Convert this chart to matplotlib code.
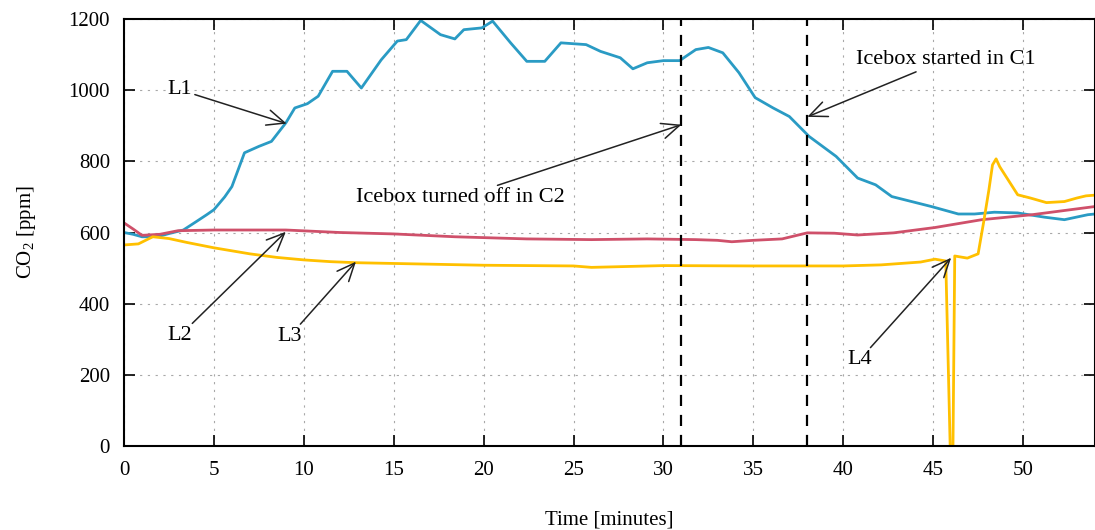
import matplotlib
matplotlib.use("Agg")
import matplotlib.pyplot as plt

plt.rcParams['font.family'] = ['Liberation Serif', 'DejaVu Serif']
plt.rcParams['mathtext.fontset'] = 'custom'
plt.rcParams['mathtext.rm'] = 'Liberation Serif'

# L1 (blue)
t1 = [0, 0.5, 1, 1.5, 2, 2.5, 3.3, 4, 4.6, 5, 5.6, 6, 6.7, 7.5, 8.2, 9,
      9.5, 10.2, 10.8, 11.6, 12.4, 13.2, 14.3, 15.2, 15.7, 16.5, 17.6,
      18.4, 18.9, 19.9, 20.5, 21.5, 22.4, 23.4, 24.3, 25.7, 26.5, 27.6,
      28.3, 29.1, 30, 30.9, 31.8, 32.5, 33.3, 34.2, 35.1, 36.1, 37, 38.1,
      39.6, 40.8, 41.8, 42.7, 43.8, 44.9, 46.4, 47.3, 48.4, 49.7, 51.2,
      52.3, 53.6, 54]
co2_l1 = [600, 595, 588, 588, 590, 597, 607, 630, 650, 664, 700, 729, 824,
          842, 856, 908, 950, 962, 983, 1053, 1053, 1006, 1085, 1138, 1142,
          1196, 1156, 1144, 1170, 1175, 1194, 1133, 1081, 1081, 1133, 1128,
          1109, 1091, 1060, 1077, 1083, 1083, 1114, 1120, 1105, 1049, 979,
          950, 926, 870, 814, 753, 734, 701, 687, 673, 652, 652, 657, 655,
          643, 636, 650, 652]

# L2 (red)
t2 = [0, 0.5, 1, 2, 3, 5, 9, 12, 15, 18.4, 22.4, 26, 29.1, 31.8, 33, 33.8,
      35, 36.6, 38, 39.5, 40.8, 42.8, 45.1, 47.7, 50.5, 54]
co2_l2 = [627, 610, 592, 595, 605, 607, 607, 600, 596, 588, 582, 580, 582,
          580, 578, 574, 578, 582, 599, 598, 593, 599, 614, 636, 650, 673]

# L3 (yellow)
t3 = [0, 0.8, 1.6, 2.5, 3.5, 5, 7, 8.5, 10, 11.5, 13, 16, 20, 25, 26, 30,
      35, 37.3, 40, 42.1, 44.3, 45.1, 45.7, 45.95, 46.0, 46.1, 46.2, 46.9,
      47.5, 47.8, 48.1, 48.3, 48.5, 48.7, 49.7, 50.4, 51.3, 52.3, 53, 53.5,
      54]
co2_l3 = [565, 568, 588, 583, 572, 557, 540, 530, 523, 518, 515, 512, 508,
          506, 502, 507, 506, 506, 506, 509, 517, 525, 520, -10, -10, -10,
          534, 528, 540, 627, 720, 790, 807, 785, 706, 697, 684, 687, 697,
          703, 705]

events = [31, 38]

fig = plt.figure(figsize=(10.95, 5.3), dpi=100)
ax = fig.add_axes([124 / 1095, 84 / 530, 971 / 1095, 427 / 530])

ax.plot(t1, co2_l1, color='#2a9bc4', lw=2)
ax.plot(t2, co2_l2, color='#cf506a', lw=2)
ax.plot(t3, co2_l3, color='#ffc000', lw=2)

for ev in events:
    ax.axvline(ev, color='black', lw=1.6, ls=(0, (5, 4)))

ax.set_xlim(0, 54)
ax.set_ylim(0, 1200)
ax.set_xticks(range(0, 55, 5))
ax.set_yticks(range(0, 1201, 200))
ax.grid(True, color='#a8a8a8', lw=0.8, ls=(0, (2, 5)))
ax.tick_params(direction='in', length=8, width=1.2, top=True, right=True,
               labelsize=15)
ax.tick_params(axis='x', pad=11)
ax.tick_params(axis='y', pad=10)
for sp in ax.spines.values():
    sp.set_linewidth(1.5)

ax.set_xlabel('Time [minutes]', fontsize=15, labelpad=22)
ax.set_ylabel('CO$_2$ [ppm]', fontsize=15, labelpad=22)

arrow = dict(arrowstyle='->,head_length=0.8,head_width=0.35', lw=1.1,
             color='#222222', shrinkA=0, shrinkB=0)
ax.annotate('L1', xy=(9.05, 906), xytext=(3.1, 1001), fontsize=16,
            ha='center', va='center', arrowprops=arrow)
ax.annotate('L2', xy=(9.0, 602), xytext=(3.1, 310), fontsize=16,
            ha='center', va='center', arrowprops=arrow)
ax.annotate('L3', xy=(12.9, 518), xytext=(9.2, 308), fontsize=16,
            ha='center', va='center', arrowprops=arrow)
ax.annotate('L4', xy=(46.0, 529), xytext=(40.9, 242), fontsize=16,
            ha='center', va='center', arrowprops=arrow)
ax.annotate('Icebox turned off in C2', xy=(31.0, 903), xytext=(18.7, 698),
            fontsize=16, ha='center', va='center', arrowprops=arrow)
ax.annotate('Icebox started in C1', xy=(38.0, 925), xytext=(45.7, 1086),
            fontsize=16, ha='center', va='center', arrowprops=arrow)

fig.savefig('out.png', dpi=100)
